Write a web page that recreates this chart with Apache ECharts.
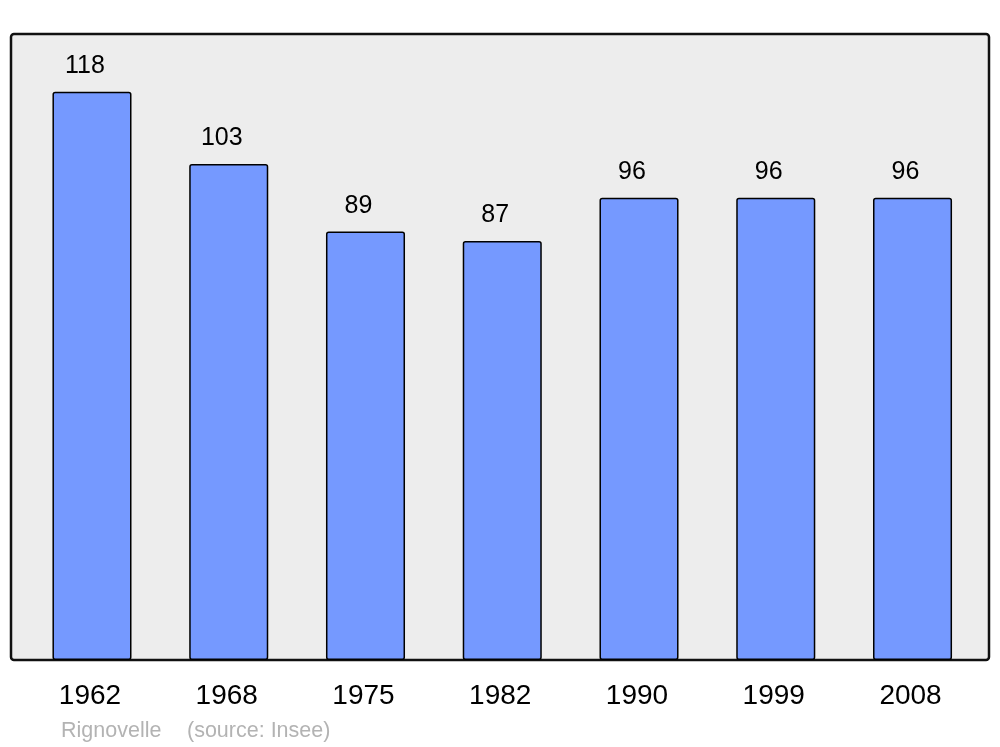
<!DOCTYPE html>
<html>
<head>
<meta charset="utf-8">
<script src="https://cdn.jsdelivr.net/npm/echarts@6/dist/echarts.min.js"></script>
<style>
  html, body { margin: 0; padding: 0; background: #fff; }
  #main { width: 1000px; height: 747px; }
</style>
</head>
<body>
<div id="main"></div>
<script>
// données de population
const years = ['1962', '1968', '1975', '1982', '1990', '1999', '2008']
const population = [118, 103, 89, 87, 96, 96, 96]
const commune = 'Rignovelle'
const source = '(source: Insee)'

const chartDom = document.getElementById('main')
const myChart = echarts.init(chartDom)
const font = '"Liberation Sans", Arial, sans-serif'

const option = {
  animation: false,
  grid: {
    left: 23.6,
    right: 19.1,
    top: 34,
    bottom: 87,
  },
  graphic: [
    {
      // cadre gris
      type: 'rect',
      z: -10,
      silent: true,
      shape: { x: 11, y: 34, width: 978, height: 626, r: 3 },
      style: { fill: '#ededed', stroke: '#111', lineWidth: 2.5 },
    },
    {
      type: 'text',
      left: 61,
      top: 720,
      style: { text: commune, fill: '#b3b3b3', font: '21.5px ' + font },
    },
    {
      type: 'text',
      left: 187,
      top: 720,
      style: { text: source, fill: '#b3b3b3', font: '21.5px ' + font },
    },
  ],
  xAxis: {
    type: 'category',
    data: years,
    axisLine: { show: false },
    axisTick: { show: false },
    axisLabel: {
      margin: 22,
      color: '#000',
      fontSize: 28,
      fontFamily: font,
      padding: [0, 4, 0, 0],
    },
  },
  yAxis: {
    type: 'value',
    min: 0,
    max: 130,
    show: false,
    splitLine: { show: false },
  },
  series: [
    {
      type: 'bar',
      data: population,
      barWidth: '57.8%',
      itemStyle: {
        color: '#7599ff',
        borderColor: '#000',
        borderWidth: 1.5,
        borderRadius: 2,
      },
      label: {
        show: true,
        position: 'top',
        distance: 13,
        offset: [-7, 0],
        color: '#000',
        fontSize: 25,
        fontFamily: font,
      },
    },
  ],
}

option && myChart.setOption(option)
</script>
</body>
</html>
